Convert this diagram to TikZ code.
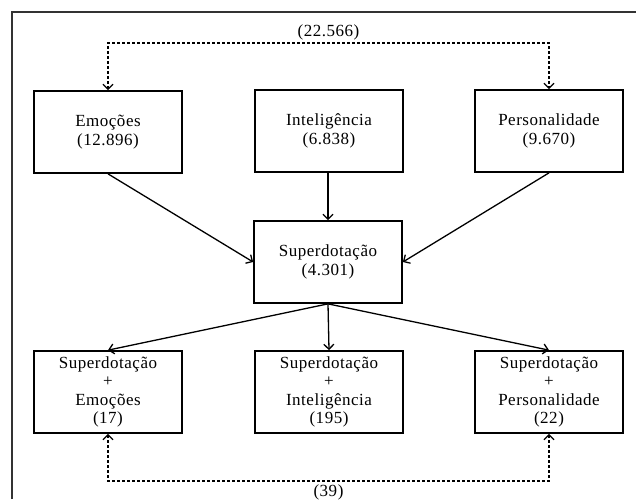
\documentclass[tikz,border=0pt]{standalone}
\usepackage{fontspec}
\setmainfont[LetterSpace=3]{Liberation Serif}
\usetikzlibrary{positioning}
\usetikzlibrary{arrows.meta}

\tikzset{
  box/.style={draw,line width=1.7pt,minimum width=148pt,minimum height=82pt,
    align=center,inner sep=2pt,font=\fontsize{17}{18.5}\selectfont},
  link/.style={line width=1.3pt,-{Straight Barb[length=5pt,width=10pt]}},
  duo/.style={line width=1.3pt,dash pattern=on 3pt off 2pt,
    {Straight Barb[length=5pt,width=10pt]}-{Straight Barb[length=5pt,width=10pt]}},
  lbl/.style={font=\fontsize{17}{18.5}\selectfont,inner sep=2pt}
}

\begin{document}
\begin{tikzpicture}[x=1pt,y=-1pt]
 \useasboundingbox (0,0) rectangle (636,499);
 \draw[line width=1.5pt,black!80](12,499)--(12,12)--(636,12); 
 % top row
 \node[box] (emo) at (108,132) {Emoções\\(12.896)};
 \node[box] (int) at (329,131) {Inteligência\\(6.838)};
 \node[box] (per) at (549,131) {Personalidade\\(9.670)};
 % middle
 \node[box] (sup) at (328,262) {Superdotação\\(4.301)};
 % bottom row
 \node[box] (semo) at (108,392) {Superdotação\\+\\Emoções\\(17)};
 \node[box] (sint) at (329,392) {Superdotação\\+\\Inteligência\\(195)};
 \node[box] (sper) at (549,392) {Superdotação\\+\\Personalidade\\(22)};
 \coordinate (topy) at (0,43);
 \coordinate (boty) at (0,481);
 \draw[link](emo.south)--(sup.west); 
 \draw[link](int.south-|sup.north)--(sup.north); 
 \draw[link](per.south)--(sup.east); 
 \draw[link](sup.south)--(semo.north); 
 \draw[link](sup.south)--(sint.north); 
 \draw[link](sup.south)--(sper.north); 
 \draw[duo](emo.north)|-node[lbl,above,pos=0.75]{(22.566)}(per.north|-topy)--(per.north); 
 \draw[duo](semo.south)|-node[lbl,below,pos=0.75,yshift=-1pt]{(39)}(sper.south|-boty)--(sper.south); 
\end{tikzpicture}
\end{document}
